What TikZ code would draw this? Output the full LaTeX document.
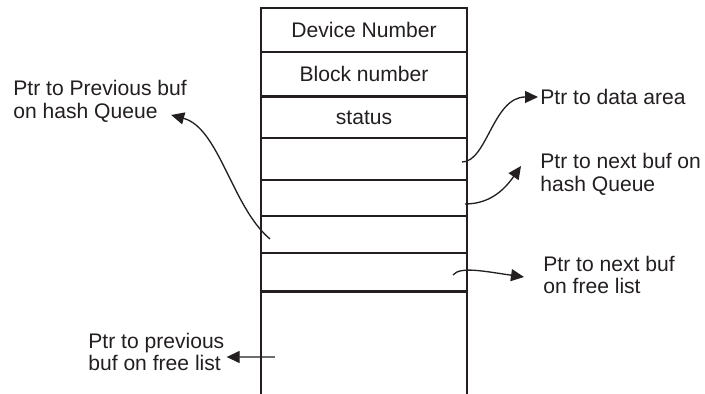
\documentclass[tikz,border=0pt]{standalone}
\usepackage{fontspec}
\setmainfont{Liberation Sans}
\definecolor{ink}{HTML}{231F20}
\usetikzlibrary{arrows.meta,positioning}

\begin{document}
\begin{tikzpicture}[>={Triangle[length=0.26cm,width=0.24cm]}, font=\fontsize{12}{13}\selectfont, text=ink]
  \tikzset{
    field/.style={inner sep=0pt},
    lbl/.style={align=left, inner sep=0pt, anchor=west},
    ptr/.style={draw=ink, line width=0.75pt, ->},
    rule/.style={draw=ink, line width=1.2pt},
  }
  \useasboundingbox (0,0) rectangle (14.1,7.88);

  % Buffer header
  \draw[rule] (5.22,0) -- (5.22,7.72) -- (9.34,7.72) -- (9.34,0);
  \foreach \y in {6.84,5.95,5.12,4.28,3.56,2.82,2.05}
    \draw[rule] (5.22,\y) -- (9.34,\y);

  % Fields
  \node[field] (devnum) at (7.28,7.28) {Device Number};
  \node[field] (blknum) at (7.28,6.40) {Block number};
  \node[field] (status) at (7.28,5.53) {status};

  % Labels
  \node[lbl] (dataarea) at (10.80,5.94) {Ptr to data area};
  \node[lbl] (hashnext) at (10.80,4.40) {Ptr to next buf on\\hash Queue};
  \node[lbl] (hashprev) at (0.26,5.86) {Ptr to Previous buf\\on hash Queue};
  \node[lbl] (freenext) at (10.86,2.38) {Ptr to next buf\\on free list};
  \node[lbl] (freeprev) at (1.76,0.84) {Ptr to previous\\buf on free list};

  % Pointer sources
  \coordinate (datasrc) at (9.24,4.64);
  \coordinate (hashsrc) at (9.30,3.80);
  \coordinate (prevsrc) at (5.40,3.10);
  \coordinate (freesrc) at (9.06,2.38);
  \coordinate (fprevsrc) at (5.50,0.74);

  % Pointers
  \draw[ptr] (datasrc) .. controls +(0.5,0) and +(-0.9,0) .. ([xshift=-0.04cm]dataarea.west);
  \draw[ptr] (hashsrc) to[out=0, in=235] ([xshift=-0.38cm,yshift=0.16cm]hashnext.west);
  \draw[ptr] (prevsrc) to[out=140, in=-15, looseness=0.8] ([xshift=-0.32cm,yshift=-0.28cm]hashprev.east);
  \draw[ptr] (freesrc) .. controls +(0.14,0.18) and +(-0.78,0.11) .. ([xshift=-0.38cm,yshift=-0.04cm]freenext.west);
  \draw[ptr] (fprevsrc) -- ([xshift=0.04cm,yshift=-0.1cm]freeprev.east);
\end{tikzpicture}
\end{document}
